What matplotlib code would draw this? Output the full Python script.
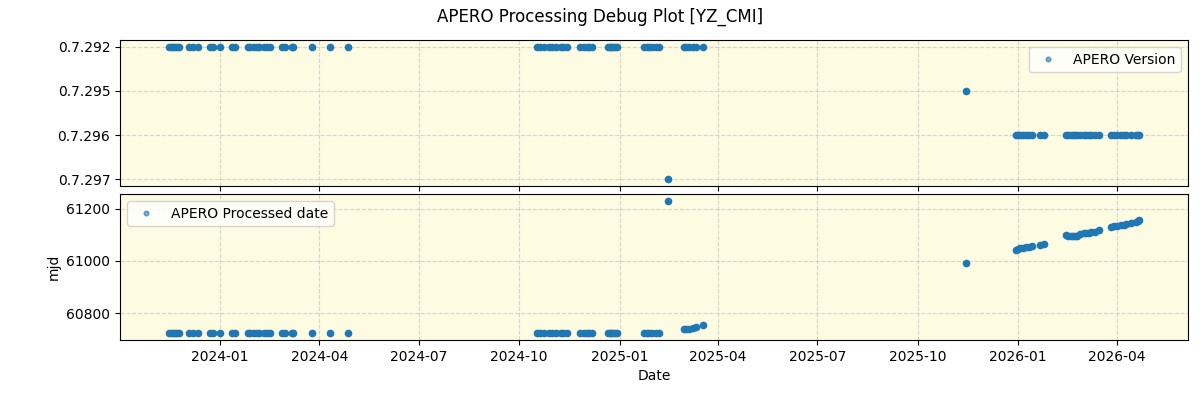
import numpy as np
import pandas as pd
import matplotlib
matplotlib.use("Agg")
import matplotlib.pyplot as plt
import matplotlib.dates as mdates

obs_dates = [
    # late 2023 - spring 2024
    "2023-11-15", "2023-11-17", "2023-11-19", "2023-11-21", "2023-11-23", "2023-11-25",
    "2023-12-04", "2023-12-07", "2023-12-12", "2023-12-23", "2023-12-26", "2024-01-01",
    "2024-01-12", "2024-01-15", "2024-01-27", "2024-01-29", "2024-02-01", "2024-02-04",
    "2024-02-06", "2024-02-10", "2024-02-13", "2024-02-16", "2024-02-27", "2024-03-01",
    "2024-03-07", "2024-03-08", "2024-03-25", "2024-04-11", "2024-04-27",
    # autumn 2024 - early 2025
    "2024-10-17", "2024-10-20", "2024-10-24", "2024-10-28", "2024-10-31", "2024-11-04",
    "2024-11-08", "2024-11-10", "2024-11-14", "2024-11-26", "2024-11-29", "2024-12-02",
    "2024-12-04", "2024-12-07", "2024-12-21", "2024-12-23", "2024-12-24", "2024-12-26",
    "2024-12-28", "2024-12-30", "2025-01-23", "2025-01-26", "2025-01-28", "2025-01-31",
    "2025-02-03", "2025-02-06",
    "2025-02-14",
    "2025-03-01", "2025-03-03", "2025-03-06", "2025-03-09", "2025-03-12", "2025-03-18",
    "2025-11-14",
    # 2026
    "2025-12-30", "2026-01-01", "2026-01-03", "2026-01-05", "2026-01-08", "2026-01-11",
    "2026-01-14", "2026-01-21", "2026-01-25",
    "2026-02-14", "2026-02-16", "2026-02-18", "2026-02-20", "2026-02-22", "2026-02-24",
    "2026-02-27", "2026-03-02", "2026-03-04", "2026-03-07", "2026-03-09", "2026-03-12",
    "2026-03-16", "2026-03-27", "2026-03-30", "2026-04-01", "2026-04-05", "2026-04-08",
    "2026-04-10", "2026-04-14", "2026-04-19", "2026-04-21", "2026-04-22",
]

versions = (["0.7.292"] * 29 + ["0.7.292"] * 26 + ["0.7.297"] + ["0.7.292"] * 6
            + ["0.7.295"] + ["0.7.296"] * 32)

processed_mjd = (
    [60724] * 29 + [60724] * 26 + [61230]
    + [60739, 60740, 60742, 60744, 60749, 60755]
    + [60992]
    + [61042, 61047, 61049, 61050, 61052, 61054, 61057, 61061, 61065,
       61100, 61096, 61094, 61094, 61095, 61095, 61101, 61105, 61106, 61108, 61110,
       61112, 61117, 61130, 61132, 61133, 61136, 61139, 61141, 61146, 61150, 61152, 61156]
)

dates = pd.to_datetime(obs_dates)
cats = sorted(set(versions))
vpos = [cats.index(v) for v in versions]

bg = "#fdfbe2"
col = "#1f77b4"

fig, (ax1, ax2) = plt.subplots(2, 1, figsize=(12, 4), dpi=100, sharex=True)
fig.subplots_adjust(left=0.1, right=0.99, top=0.9, bottom=0.15, hspace=0.055)
fig.suptitle("APERO Processing Debug Plot [YZ_CMI]", fontsize=12, y=0.98)

ax1.plot(dates, vpos, "o", ms=4.5, color=col, label="APERO Version")
ax1.set_yticks(range(len(cats)))
ax1.set_yticklabels(cats)
ax1.invert_yaxis()
leg1 = ax1.legend(loc="upper right", markerscale=0.75)

ax2.plot(dates, processed_mjd, "o", ms=4.5, color=col, label="APERO Processed date")
ax2.set_ylabel("mjd")
ax2.set_xlabel("Date")
leg2 = ax2.legend(loc="upper left", markerscale=0.75)

for leg in (leg1, leg2):
    for h in leg.legend_handles:
        h.set_alpha(0.6)

for ax in (ax1, ax2):
    ax.set_facecolor(bg)
    ax.grid(True, linestyle="--", alpha=0.5)

ax2.xaxis.set_major_locator(mdates.MonthLocator(bymonth=[1, 4, 7, 10]))
ax2.xaxis.set_major_formatter(mdates.DateFormatter("%Y-%m"))

fig.savefig("out.png")
